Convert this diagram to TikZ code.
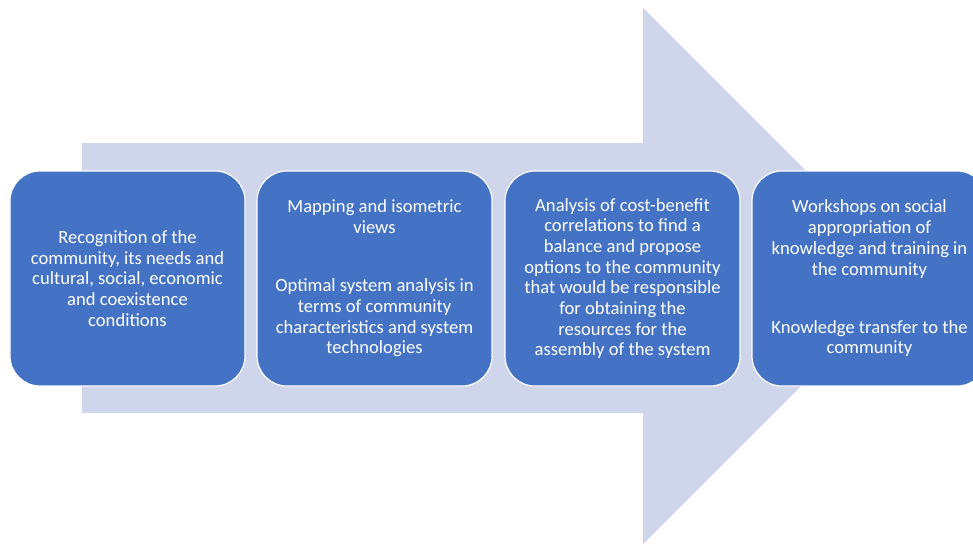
\documentclass[tikz,border=0pt]{standalone}
\usepackage{fontspec}
\setmainfont{Carlito}
\definecolor{arrowfill}{HTML}{CFD5EA}
\definecolor{boxfill}{HTML}{4472C4}
\begin{document}
\begin{tikzpicture}[x=1pt,y=-1pt,
  stepbox/.style={draw=white, line width=1.2pt, fill=boxfill, rounded corners=30pt,
    minimum width=235pt, minimum height=215pt, text=white, align=center,
    font=\fontsize{18.6}{20.7}\selectfont, inner sep=0pt}]
\clip (0,0) rectangle (973,544);
\fill[arrowfill] (82,143) -- (643,143) -- (643,8) -- (911,276) -- (643,544) -- (643,413) -- (82,413) -- cycle;
\node[stepbox] (s1) at (127.5,278.5) {Recognition of the\\community, its needs and\\cultural, social, economic\\and coexistence\\conditions};
\node[stepbox] (s2) at (374.5,278.5) {Mapping and isometric\\views\\[37.5pt]Optimal system analysis in\\terms of community\\characteristics and system\\technologies};
\node[stepbox] (s3) at (622.5,278.5) {Analysis of cost-benefit\\correlations to find a\\balance and propose\\options to the community\\that would be responsible\\for obtaining the\\resources for the\\assembly of the system};
\node[stepbox] (s4) at (869.5,278.5) {Workshops on social\\appropriation of\\knowledge and training in\\the community\\[37.5pt]Knowledge transfer to the\\community};
\end{tikzpicture}
\end{document}
